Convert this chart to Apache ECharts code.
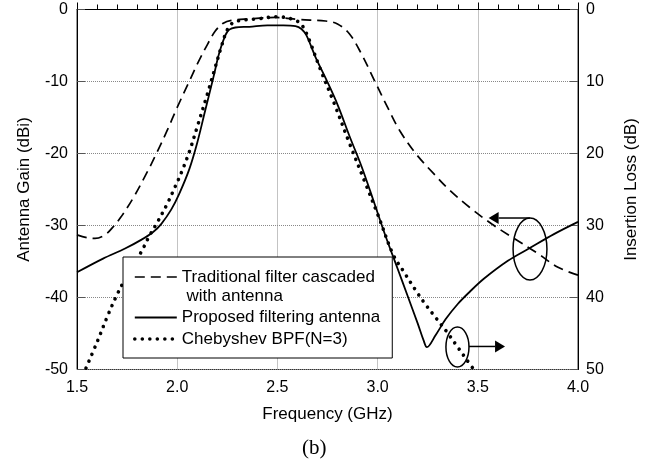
<!DOCTYPE html>
<html>
<head>
<meta charset="utf-8">
<script src="https://cdn.jsdelivr.net/npm/echarts@6/dist/echarts.min.js"></script>
<style>
  html, body { margin: 0; padding: 0; background: #fff; }
  #chart { width: 652px; height: 466px; }
</style>
</head>
<body>
<div id="chart"></div>
<script>
// Series names shown in the legend
const seriesNames = [
  'Traditional filter cascaded\n with antenna',
  'Proposed filtering antenna',
  'Chebyshev BPF(N=3)'
];

// Traditional filter cascaded with antenna: gain (dBi) vs frequency (GHz)
const tradFreq = [1.50, 1.55, 1.59, 1.64, 1.68, 1.72, 1.78, 1.85, 1.90, 1.95, 2.00, 2.06, 2.10, 2.15, 2.19, 2.23, 2.27, 2.36, 2.49, 2.61, 2.74, 2.80, 2.86, 2.92, 2.985, 3.05, 3.11, 3.19, 3.28, 3.36, 3.46, 3.57, 3.67, 3.80, 3.90, 4.00];
const tradGain = [-31.3, -31.7, -31.8, -31.3, -30.2, -28.8, -26.2, -22.6, -19.8, -16.8, -13.6, -10.0, -7.6, -4.9, -3.0, -1.9, -1.5, -1.3, -1.1, -1.4, -1.6, -2.0, -3.4, -6.2, -9.9, -13.6, -16.8, -20.0, -22.8, -25.1, -27.5, -29.8, -31.6, -33.9, -35.8, -36.9];

// Proposed filtering antenna: gain (dBi) vs frequency (GHz)
const propFreq = [1.50, 1.63, 1.74, 1.82, 1.88, 1.92, 1.97, 2.01, 2.06, 2.10, 2.14, 2.18, 2.21, 2.24, 2.26, 2.29, 2.36, 2.45, 2.53, 2.59, 2.62, 2.645, 2.69, 2.74, 2.80, 2.86, 2.92, 2.98, 3.04, 3.10, 3.15, 3.20, 3.23, 3.246, 3.29, 3.34, 3.40, 3.46, 3.53, 3.65, 3.755, 3.88, 4.00];
const propGain = [-36.5, -34.6, -33.2, -32.0, -30.9, -29.8, -27.8, -25.6, -22.2, -18.5, -14.0, -9.5, -6.0, -3.6, -2.8, -2.5, -2.4, -2.2, -2.2, -2.3, -2.7, -3.6, -6.6, -9.5, -13.2, -17.6, -21.8, -26.6, -31.5, -36.0, -39.8, -43.6, -46.0, -46.9, -45.2, -43.0, -40.9, -39.2, -37.4, -34.9, -33.2, -31.2, -29.5];

// Chebyshev BPF (N=3): insertion loss (dB) vs frequency (GHz)
const chebFreq = [1.545, 1.60, 1.655, 1.70, 1.76, 1.82, 1.86, 1.90, 1.95, 1.99, 2.02, 2.06, 2.10, 2.15, 2.19, 2.22, 2.25, 2.28, 2.32, 2.40, 2.50, 2.57, 2.61, 2.63, 2.66, 2.71, 2.78, 2.86, 2.94, 3.00, 3.077, 3.13, 3.19, 3.24, 3.29, 3.346, 3.40, 3.446, 3.48];
const chebLoss = [49.8, 46.2, 42.4, 39.6, 36.4, 33.7, 31.5, 29.6, 27.0, 24.6, 22.7, 19.8, 16.3, 11.8, 8.0, 5.2, 2.8, 1.8, 1.5, 1.3, 1.0, 1.3, 1.8, 2.5, 4.3, 8.0, 12.8, 18.6, 24.2, 28.4, 34.0, 36.4, 39.0, 41.0, 42.8, 44.8, 46.9, 48.7, 50.0];

// Axis ranges and tick steps
const freqRange = [1.5, 4.0, 0.5];
const gainRange = [-50, 0, 10];
const lossRange = [0, 50, 10];

const zip = (xs, ys) => xs.map((x, i) => [x, ys[i]]);

const FONT = '"Liberation Sans", Arial, Helvetica, sans-serif';
const black = '#000';

const chart = echarts.init(document.getElementById('chart'), null, { renderer: 'canvas' });

const nameStyle = { color: black, fontSize: 17, fontFamily: FONT };
const labelStyle = { color: black, fontSize: 16, fontFamily: FONT };

const dashStyle = { color: black, width: 1.7, type: [10, 6] };
const solidStyle = { color: black, width: 1.8, type: 'solid' };
const dotStyle = { color: black, width: 3.6, type: [0.01, 7.5], cap: 'round' };

const option = {
  animation: false,
  backgroundColor: '#fff',
  title: {
    text: '(b)',
    left: 302,
    top: 438,
    padding: 0,
    textStyle: { fontFamily: '"Liberation Serif", "Times New Roman", serif', fontSize: 21, fontWeight: 'normal', color: black }
  },
  grid: {
    left: 77, right: 74, top: 9.5, bottom: 96.5,
    show: true, borderColor: '#333', borderWidth: 1, backgroundColor: 'transparent'
  },
  legend: {
    orient: 'vertical',
    left: 123,
    top: 257,
    padding: [-8.5, 12, 9.5, 10],
    itemGap: 2.5,
    itemWidth: 42,
    itemHeight: 14,
    backgroundColor: '#fff',
    borderColor: black,
    borderWidth: 1,
    borderRadius: 0,
    itemStyle: { opacity: 0 },
    textStyle: { fontSize: 17, lineHeight: 19, color: black, fontFamily: FONT },
    // the two-line entry gets an empty leading line so its first line sits level with the key
    formatter: name => (name.indexOf('\n') >= 0 ? '\n' + name : name),
    data: [
      { name: seriesNames[0], lineStyle: dashStyle },
      { name: seriesNames[1], lineStyle: solidStyle },
      { name: seriesNames[2], lineStyle: dotStyle }
    ]
  },
  xAxis: {
    type: 'value',
    min: freqRange[0], max: freqRange[1], interval: freqRange[2],
    name: 'Frequency (GHz)', nameLocation: 'middle', nameGap: 36, nameTextStyle: nameStyle,
    axisLine: { lineStyle: { color: black, width: 1 } },
    axisTick: { inside: true, length: 7, lineStyle: { color: black } },
    minorTick: { show: true, splitNumber: 5, length: 5, lineStyle: { color: black } },
    splitLine: { show: true, lineStyle: { type: 'dotted', color: '#888', width: 1 } },
    axisLabel: { ...labelStyle, margin: 10, formatter: v => v.toFixed(1) }
  },
  yAxis: [
    {
      type: 'value',
      min: gainRange[0], max: gainRange[1], interval: gainRange[2],
      name: 'Antenna Gain (dBi)', nameLocation: 'middle', nameGap: 44, nameRotate: 90, nameTextStyle: nameStyle,
      axisLine: { show: true, lineStyle: { color: black, width: 1 } },
      axisTick: { show: true, inside: true, length: 8, lineStyle: { color: '#555' } },
      splitLine: { show: true, lineStyle: { type: 'dotted', color: '#888', width: 1 } },
      axisLabel: { ...labelStyle, margin: 9 }
    },
    {
      type: 'value',
      position: 'right',
      inverse: true,
      min: lossRange[0], max: lossRange[1], interval: lossRange[2],
      name: 'Insertion Loss (dB)', nameLocation: 'middle', nameGap: 45, nameRotate: 90, nameTextStyle: nameStyle,
      axisLine: { show: true, lineStyle: { color: black, width: 1 } },
      axisTick: { show: true, inside: true, length: 8, lineStyle: { color: '#555' } },
      splitLine: { show: false },
      axisLabel: { ...labelStyle, margin: 8 }
    }
  ],
  series: [
    {
      name: seriesNames[0],
      type: 'line',
      yAxisIndex: 0,
      data: zip(tradFreq, tradGain),
      showSymbol: false, symbol: 'none',
      smooth: 0.35,
      lineStyle: dashStyle,
      itemStyle: { color: black },
      z: 3
    },
    {
      name: seriesNames[1],
      type: 'line',
      yAxisIndex: 0,
      data: zip(propFreq, propGain),
      showSymbol: false, symbol: 'none',
      smooth: 0.35,
      lineStyle: solidStyle,
      itemStyle: { color: black },
      z: 3
    },
    {
      name: seriesNames[2],
      type: 'line',
      yAxisIndex: 1,
      data: zip(chebFreq, chebLoss),
      showSymbol: false, symbol: 'none',
      smooth: 0.35,
      lineStyle: dotStyle,
      itemStyle: { color: black },
      z: 3
    }
  ]
};

chart.setOption(option);

// Annotation ellipses with arrows pointing to the axis each group belongs to
function px(x, y) {
  return chart.convertToPixel({ xAxisIndex: 0, yAxisIndex: 0 }, [x, y]);
}
function ellipseFromBounds(x0, x1, y0, y1) {
  const a = px(x0, y0), b = px(x1, y1);
  return {
    type: 'ellipse',
    shape: { cx: (a[0] + b[0]) / 2, cy: (a[1] + b[1]) / 2, rx: Math.abs(b[0] - a[0]) / 2, ry: Math.abs(b[1] - a[1]) / 2 },
    style: { fill: 'none', stroke: black, lineWidth: 1.5 },
    z: 20
  };
}
function arrow(xFrom, xTip, y) {
  const s = px(xFrom, y), t = px(xTip, y);
  const dir = t[0] > s[0] ? 1 : -1;
  const headLen = 10, headHalf = 6;
  return [
    {
      type: 'line',
      shape: { x1: s[0], y1: s[1], x2: t[0] - dir * headLen, y2: t[1] },
      style: { stroke: black, lineWidth: 1.5 },
      z: 20
    },
    {
      type: 'polygon',
      shape: { points: [[t[0], t[1]], [t[0] - dir * headLen, t[1] - headHalf], [t[0] - dir * headLen, t[1] + headHalf]] },
      style: { fill: black },
      z: 20
    }
  ];
}

const graphics = [
  ellipseFromBounds(3.676, 3.845, -28.96, -37.57),
  ...arrow(3.76, 3.554, -28.96),
  ellipseFromBounds(3.341, 3.456, -44.1, -49.65),
  ...arrow(3.456, 3.636, -46.8)
];
chart.setOption({ graphic: graphics });
</script>
</body>
</html>
